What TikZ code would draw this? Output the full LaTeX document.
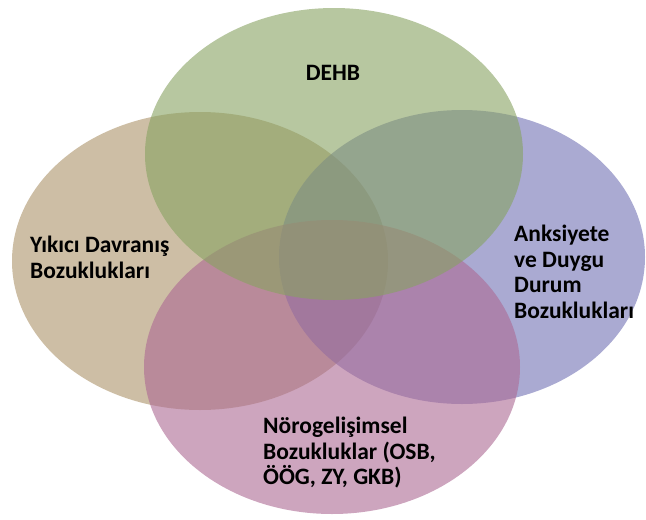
\documentclass[tikz,border=0pt]{standalone}
\usepackage{fontspec}
\setmainfont{Carlito}
\usetikzlibrary{shapes.geometric,positioning}
\definecolor{sagegreen}{RGB}{135,162,97}
\definecolor{sandbrown}{RGB}{172,147,105}
\definecolor{lavender}{RGB}{113,113,180}
\definecolor{mauve}{RGB}{172,105,147}

\begin{document}
\begin{tikzpicture}[x=1pt, y=-1pt]
\tikzstyle{setshape} = [ellipse, draw=none, inner sep=0pt, minimum width=376pt, minimum height=294pt, fill opacity=0.6]
\tikzstyle{setlabel} = [anchor=north west, align=left, inner sep=0pt, font=\bfseries\fontsize{23.5}{25.5}\selectfont]

\useasboundingbox (0,0) rectangle (646,520);

% the four sets
\node (brownset) [setshape, fill=sandbrown, minimum height=298pt] at (200,261) {};
\node (blueset) [setshape, fill=lavender, minimum width=366pt] at (462,257) {};
\node (pinkset) [setshape, fill=mauve] at (332,367) {};
\node (greenset) [setshape, fill=sagegreen, minimum width=378pt, minimum height=292pt] at (334,154) {};

% labels
\node (dehb) [setlabel, anchor=base] at (333,80) {DEHB};
\node (yikici) [setlabel] at (30,236) {Yıkıcı Davranış\\Bozuklukları};
\node (anksiyete) [setlabel] at (514,225) {Anksiyete\\ve Duygu\\Durum\\Bozuklukları};
\node (norogelisimsel) [setlabel] at (263,417) {Nörogelişimsel\\Bozukluklar (OSB,\\ÖÖG, ZY, GKB)};
\end{tikzpicture}
\end{document}
